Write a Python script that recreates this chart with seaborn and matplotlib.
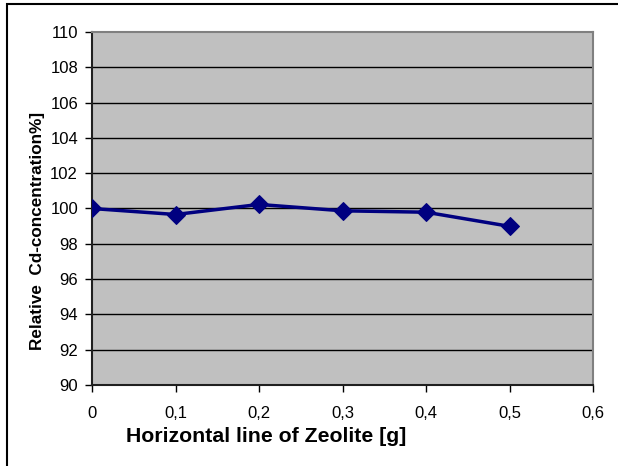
import matplotlib
matplotlib.use("Agg")
import matplotlib.pyplot as plt
from matplotlib.patches import Rectangle
from matplotlib.ticker import FuncFormatter
import seaborn as sns
import pandas as pd

# Zeolite dose [g] and relative Cd concentration [%]
zeolite_g = [0.0, 0.1, 0.2, 0.3, 0.4, 0.5]
rel_cd = [100.0, 99.66, 100.23, 99.87, 99.79, 98.99]
x_ticks = [0.0, 0.1, 0.2, 0.3, 0.4, 0.5, 0.6]
y_ticks = [90, 92, 94, 96, 98, 100, 102, 104, 106, 108, 110]

df = pd.DataFrame({"zeolite": zeolite_g, "cd": rel_cd})

sns.set_theme(style="white")
plt.rcParams["font.family"] = ["Liberation Sans", "DejaVu Sans"]

W, H = 618, 466
fig = plt.figure(figsize=(W / 100, H / 100), dpi=100)
ax = fig.add_axes([92 / W, 1 - 385 / H, (593 - 92) / W, (385 - 32) / H])
ax.set_facecolor("#C0C0C0")

# horizontal gridlines
for yv in y_ticks[1:-1]:
    ax.axhline(yv, color="black", lw=1.0, zorder=1)

sns.lineplot(data=df, x="zeolite", y="cd", ax=ax, color="#000080", lw=2.5,
             marker="D", markersize=9, markeredgecolor="#000080",
             markerfacecolor="#000080", zorder=3)

ax.set_xlim(0, 0.6)
ax.set_ylim(90, 110)
ax.set_xticks(x_ticks)
ax.set_yticks(y_ticks)
ax.xaxis.set_major_formatter(FuncFormatter(lambda v, p: f"{v:g}".replace(".", ",")))
ax.yaxis.set_major_formatter(FuncFormatter(lambda v, p: f"{v:g}"))
ax.tick_params(axis="both", direction="out", length=5, width=1, colors="black",
               labelsize=12, bottom=True, left=True)
ax.tick_params(axis="x", pad=10)
ax.tick_params(axis="y", pad=5)

for side in ["top", "right"]:
    ax.spines[side].set_color("#808080")
    ax.spines[side].set_linewidth(1.5)
for side in ["left", "bottom"]:
    ax.spines[side].set_color("#202020")
    ax.spines[side].set_linewidth(1.5)

ax.set_xlabel("")
ax.set_ylabel("")
fig.text(126 / W, 1 - 437 / H, "Horizontal line of Zeolite [g]", fontsize=15.3,
         fontweight="bold", ha="left", va="center", color="black")
fig.text(38 / W, 1 - 231 / H, "Relative  Cd-concentration%]", fontsize=12.3,
         fontweight="bold", rotation=90, ha="center", va="center", color="black")

# chart frame
fig.patches.append(Rectangle((7 / W, -0.1), 1.2, 1 - 4 / H + 0.1,
                             transform=fig.transFigure, fill=False,
                             edgecolor="black", lw=1.5))

fig.savefig("out.png", dpi=100)
